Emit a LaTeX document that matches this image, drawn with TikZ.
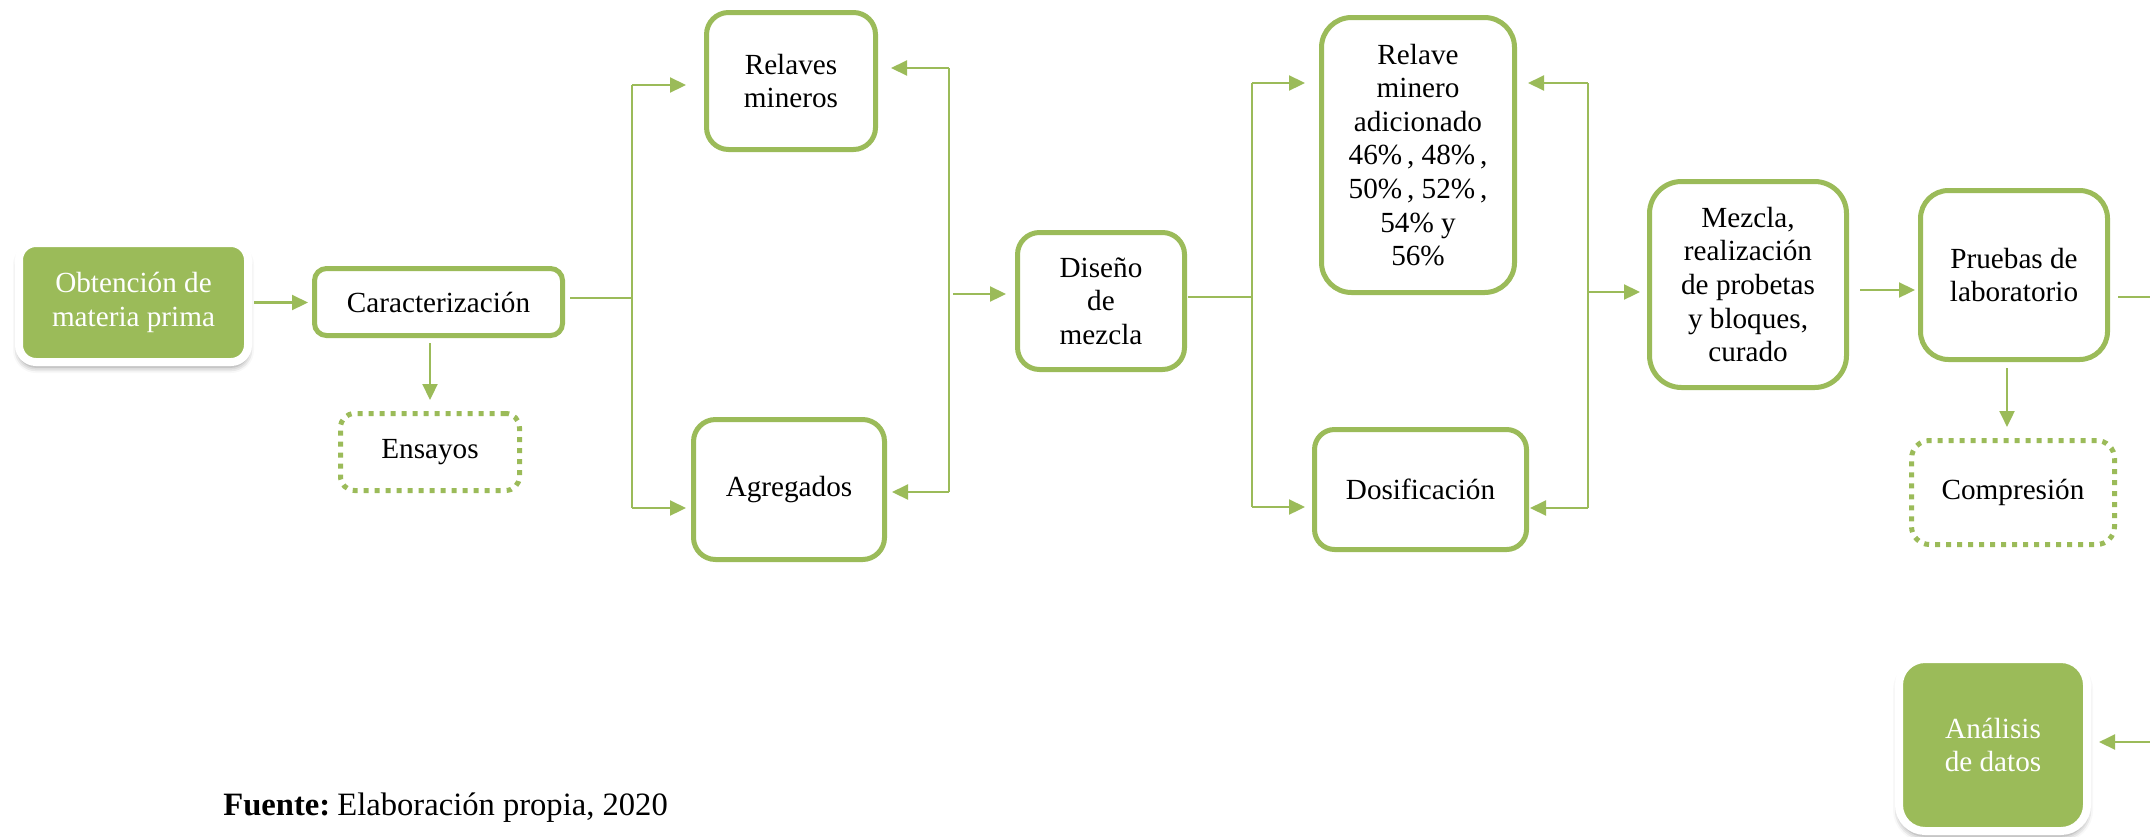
\documentclass[tikz,border=0pt]{standalone}
\usepackage{fontspec}
\setmainfont{Liberation Serif}
\usetikzlibrary{arrows.meta,shadows.blur}
\definecolor{olive}{HTML}{9BBB59}
\begin{document}
\begin{tikzpicture}[x=0.5pt,y=-0.5pt,
  font=\fontsize{14.6pt}{16.8pt}\selectfont,
  box/.style={draw=olive, line width=2.5pt, fill=white, align=center, inner sep=0pt, outer sep=0pt, rounded corners=#1},
  box/.default=11pt,
  dotbox/.style={draw=olive, line width=2.5pt, dash pattern=on 2.5pt off 3pt, align=center, inner sep=0pt, outer sep=0pt, rounded corners=#1},
  greenbox/.style={fill=olive, draw=white, line width=4pt, text=white, align=center, inner sep=0pt, outer sep=0pt, rounded corners=#1,
    blur shadow={shadow xshift=0pt, shadow yshift=-2.5pt, shadow blur radius=3pt, shadow opacity=45}},
  conn/.style={draw=olive, line width=0.8pt},
  arr/.style={draw=olive, line width=1.1pt, -{Triangle[length=8pt,width=7.5pt]}}
]
\useasboundingbox (0,0) rectangle (2150,836);

% nodes
\node[greenbox=8.5pt, minimum width=114.5pt, minimum height=59.5pt] (obt) at (133.5,302.5) {Obtención de\\materia prima};
\node[box=6pt, minimum width=124pt, minimum height=33.5pt] (car) at (438.5,302) {Caracterización};
\node[dotbox=7pt, minimum width=89.5pt, minimum height=38.5pt] (ens) at (430,452) {Ensayos};
\node[box=11pt, minimum width=84.5pt, minimum height=68.5pt] (rel) at (791,81) {Relaves\\mineros};
\node[box=11pt, minimum width=95.5pt, minimum height=70pt] (agr) at (789,489.5) {Agregados};
\node[box=11pt, minimum width=83.5pt, minimum height=68.5pt] (dis) at (1101,301) {Diseño\\de\\mezcla};
\node[box=15pt, minimum width=96.5pt, minimum height=137.5pt] (rma) at (1418,155) {Relave\\minero\\adicionado\\46\%\,, 48\%\,,\\50\%\,, 52\%\,,\\54\% y\\56\%};
\node[box=10pt, minimum width=106pt, minimum height=60pt] (dos) at (1420.5,489.5) {Dosificación};
\node[box=16pt, minimum width=98.5pt, minimum height=103pt] (mez) at (1748,284.5) {Mezcla,\\realización\\de probetas\\y bloques,\\curado};
\node[box=14pt, minimum width=93.5pt, minimum height=84.5pt] (pru) at (2014,275) {Pruebas de\\laboratorio};
\node[dotbox=9pt, minimum width=101.5pt, minimum height=52pt] (com) at (2013,492.5) {Compresión};
\node[greenbox=13pt, minimum width=94pt, minimum height=86pt] (ana) at (1993,745) {Análisis\\de datos};
\node[anchor=base west, inner sep=0pt, font=\fontsize{16.3pt}{18.8pt}\selectfont] (fue) at (223,815) {\textbf{Fuente:}\hspace{0.22em}Elaboración propia, 2020};

% helper coordinates
\coordinate (b1) at (632,298);
\coordinate (b1t) at (632,85);
\coordinate (b1b) at (632,508);
\coordinate (b2t) at (949,68);
\coordinate (b2b) at (949,492);
\coordinate (b2m) at (949,294);
\coordinate (b3t) at (1252,83);
\coordinate (b3b) at (1252,507);
\coordinate (b3m) at (1252,297);
\coordinate (b4t) at (1588,83);
\coordinate (b4b) at (1588,508);
\coordinate (b4m) at (1588,292);
\coordinate (m1) at (0,290);
\coordinate (v1) at (2007,0);
\coordinate (e1) at (2150,297);
\coordinate (e2) at (2150,742);

% connectors
\draw[arr, shorten <=3pt, shorten >=3.25pt] (obt.east) -- (obt.east -| car.west);
\draw[arr, shorten <=3.75pt, shorten >=6.75pt] (ens.north |- car.south) -- (ens.north);

\draw[conn, shorten <=3.75pt] (car.east |- b1) -- (b1);
\draw[conn] (b1t) -- (b1b);
\draw[arr, shorten >=10.25pt] (b1t) -- (b1t -| rel.west);
\draw[arr, shorten >=3.75pt] (b1b) -- (b1b -| agr.west);

\draw[conn] (b2t) -- (b2b);
\draw[arr, shorten >=7.75pt] (b2t) -- (b2t -| rel.east);
\draw[arr, shorten >=3.75pt] (b2b) -- (b2b -| agr.east);
\draw[arr, shorten <=2pt, shorten >=5.75pt] (b2m) -- (b2m -| dis.west);

\draw[conn, shorten <=1.5pt] (dis.east |- b3m) -- (b3m);
\draw[conn] (b3t) -- (b3b);
\draw[arr, shorten >=8.25pt] (b3t) -- (b3t -| rma.west);
\draw[arr, shorten >=4.75pt] (b3b) -- (b3b -| dos.west);

\draw[conn] (b4t) -- (b4b);
\draw[arr, shorten >=6.75pt] (b4t) -- (b4t -| rma.east);
\draw[arr, shorten >=1.75pt] (b4b) -- (b4b -| dos.east);
\draw[arr, shorten >=4.75pt] (b4m) -- (b4m -| mez.west);

\draw[arr, shorten <=6.75pt, shorten >=2.75pt] (mez.east |- m1) -- (pru.west |- m1);
\draw[arr, shorten <=4.25pt, shorten >=6.75pt] (v1 |- pru.south) -- (v1 |- com.north);
\draw[conn, line width=1.1pt, shorten <=5.25pt] (pru.east |- e1) -- (e1);
\draw[arr, shorten >=6pt] (e2) -- (e2 -| ana.east);
\end{tikzpicture}
\end{document}
